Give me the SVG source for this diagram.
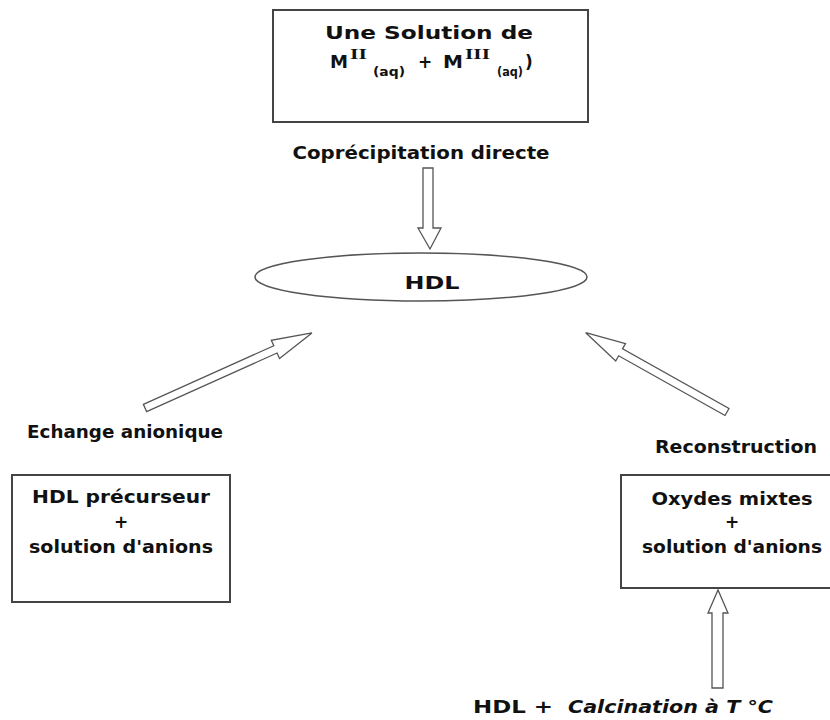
<svg xmlns="http://www.w3.org/2000/svg" width="830" height="720" viewBox="0 0 830 720">
<defs>
<style>
.t{font-family:"DejaVu Sans","Liberation Sans",sans-serif;font-weight:bold;font-size:17px;fill:#111;}
.box{fill:#fff;stroke:#444;stroke-width:2;}
.arr{fill:#fff;stroke:#555;stroke-width:1.3;stroke-linejoin:miter;}
.sup{font-family:"Liberation Serif",serif;font-weight:bold;font-size:14px;}
.sub{font-size:12px;}
</style>
</defs>
<rect width="830" height="720" fill="#fff"/>
<g id="node-solution">
<rect class="box" x="273" y="10" width="315" height="112"/>
<text class="t" x="429" y="39" text-anchor="middle" textLength="208" lengthAdjust="spacingAndGlyphs">Une Solution de</text>
<text class="t" x="330" y="68" textLength="18" lengthAdjust="spacingAndGlyphs">M</text>
<text class="t sup" x="350" y="59" textLength="17" lengthAdjust="spacingAndGlyphs">II</text>
<text class="t sub" x="373" y="76" textLength="32" lengthAdjust="spacingAndGlyphs">(aq)</text>
<text class="t" x="418" y="68">+</text>
<text class="t" x="443" y="68" textLength="20" lengthAdjust="spacingAndGlyphs">M</text>
<text class="t sup" x="465" y="59" textLength="25" lengthAdjust="spacingAndGlyphs">III</text>
<text class="t sub" x="497" y="76" textLength="26" lengthAdjust="spacingAndGlyphs">(aq)</text>
<text class="t" x="525" y="68">)</text>
</g>
<g id="node-hdl">
<ellipse cx="421" cy="277" rx="166" ry="24" fill="#fff" stroke="#555" stroke-width="1.5"/>
<text class="t" x="432" y="289" text-anchor="middle" textLength="55" lengthAdjust="spacingAndGlyphs">HDL</text>
</g>
<g id="node-precurseur">
<rect class="box" x="12" y="475" width="218" height="127"/>
<text class="t" x="121" y="503" text-anchor="middle" textLength="178" lengthAdjust="spacingAndGlyphs">HDL précurseur</text>
<text class="t" x="121" y="528" text-anchor="middle">+</text>
<text class="t" x="121" y="553" text-anchor="middle" textLength="184" lengthAdjust="spacingAndGlyphs">solution d'anions</text>
</g>
<g id="node-oxydes">
<rect class="box" x="621" y="475" width="224" height="113"/>
<text class="t" x="732" y="505" text-anchor="middle" textLength="161" lengthAdjust="spacingAndGlyphs">Oxydes mixtes</text>
<text class="t" x="732" y="528" text-anchor="middle">+</text>
<text class="t" x="732" y="553" text-anchor="middle" textLength="180" lengthAdjust="spacingAndGlyphs">solution d'anions</text>
</g>
<g id="node-calcination">
<text class="t" x="473" y="713" textLength="80" lengthAdjust="spacingAndGlyphs">HDL +</text>
<text class="t" x="568" y="713" font-style="italic" textLength="205" lengthAdjust="spacingAndGlyphs">Calcination à T °C</text>
</g>
<g id="connectors">
<polygon class="arr" points="423,168 433,168 433,228 441,228 430,249 418,228 423,228"/>
<polygon class="arr" transform="translate(145,408) rotate(-24.2)" points="0,-4 143,-4 143,-10 183,0 143,10 143,4 0,4"/>
<polygon class="arr" transform="translate(727,412) rotate(-150.7)" points="0,-4 122,-4 122,-10 162,0 122,10 122,4 0,4"/>
<polygon class="arr" points="712,688 723,688 723,613 728,613 718,590 708,613 712,613"/>
<text class="t" x="421" y="159" text-anchor="middle" textLength="257" lengthAdjust="spacingAndGlyphs">Coprécipitation directe</text>
<text class="t" x="125" y="438" text-anchor="middle" textLength="196" lengthAdjust="spacingAndGlyphs">Echange anionique</text>
<text class="t" x="736" y="453" text-anchor="middle" textLength="162" lengthAdjust="spacingAndGlyphs">Reconstruction</text>
</g>
</svg>
